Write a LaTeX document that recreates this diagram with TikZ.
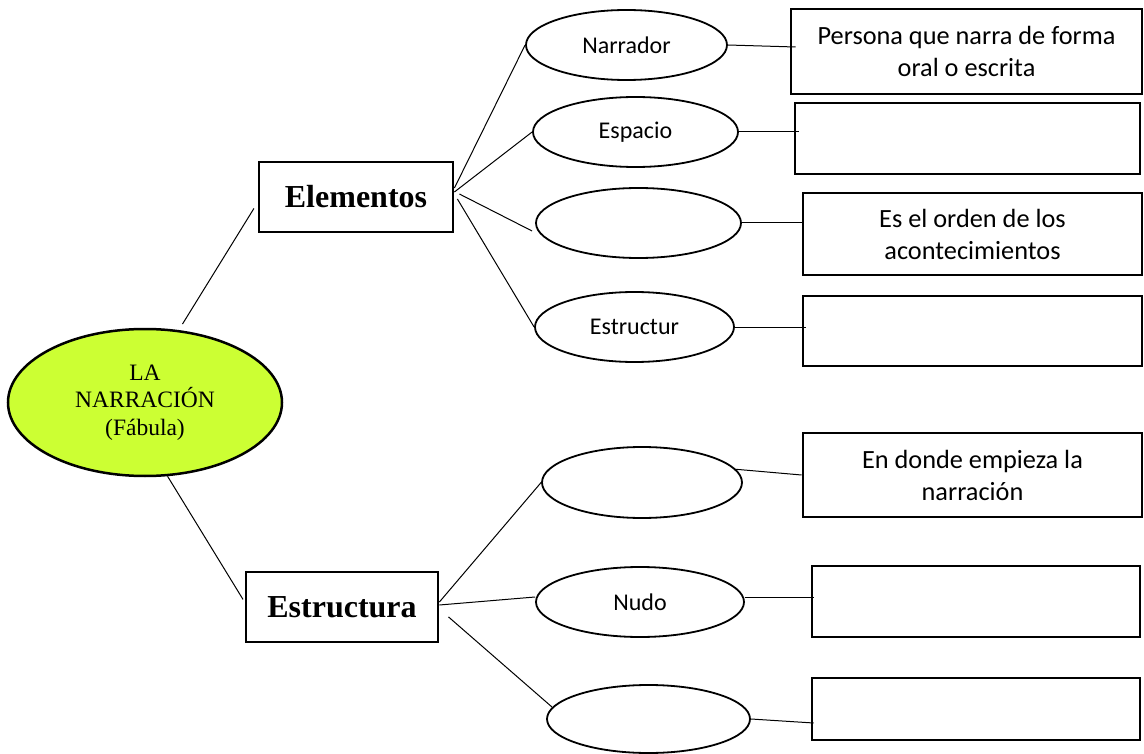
\documentclass[tikz,border=0pt]{standalone}
\usepackage{fontspec}
\setmainfont{Liberation Serif}
\newfontfamily\calfont{Carlito}
\usetikzlibrary{shapes.geometric,calc}
\definecolor{limefill}{RGB}{204,255,51}
\begin{document}
\begin{tikzpicture}[x=1pt,y=-1pt,
  oval/.style={ellipse,draw,line width=1.8pt,inner sep=0pt,font=\calfont\fontsize{24}{29}\selectfont},
  tbox/.style={rectangle,draw,line width=2.8pt,inner sep=0pt,align=center,font=\calfont\fontsize{26.3}{32}\selectfont},
  hbox/.style={rectangle,draw,line width=2.8pt,inner sep=0pt,font=\fontsize{32}{38}\selectfont\bfseries},
  link/.style={line width=1pt}]
\fill[white] (0,0) rectangle (1144,754);
\useasboundingbox (0,0) rectangle (1144,754);

% central
\node[ellipse,draw,fill=limefill,line width=2.5pt,minimum width=274pt,minimum height=147pt,inner sep=0pt,align=center,font=\fontsize{23.5}{27.7}\selectfont] (cen) at (145,402.5) {LA\\NARRACIÓN\\(Fábula)};

% headings
\node[hbox,minimum width=194pt,minimum height=70pt] (elem) at (356,197) {Elementos};
\node[hbox,minimum width=192pt,minimum height=70pt] (estr) at (342,607) {Estructura};

% ellipses
\node[oval,minimum width=201pt,minimum height=70pt] (narr) at (626.5,45) {Narrador};
\node[oval,minimum width=205pt,minimum height=70pt] (esp) at (635.5,132) {Espacio};
\node[oval,minimum width=205pt,minimum height=70pt] (e3) at (638.5,223) {};
\node[oval,minimum width=199pt,minimum height=70pt] (e4) at (634.5,327) {Estructur};
\node[oval,minimum width=200pt,minimum height=71pt] (e5) at (642,482.5) {};
\node[oval,minimum width=208pt,minimum height=70pt] (nudo) at (640,602) {Nudo};
\node[oval,minimum width=203pt,minimum height=68pt] (e7) at (648.5,719) {};

% boxes
\node[tbox,minimum width=351pt,minimum height=85pt] (pbox) at (966.5,51.5) {Persona que narra de forma\\oral o escrita};
\node[tbox,minimum width=345pt,minimum height=71pt] (b2) at (967.5,138.5) {};
\node[tbox,minimum width=339pt,minimum height=82pt] (b3) at (972.5,234) {Es el orden de los\\acontecimientos};
\node[tbox,minimum width=339pt,minimum height=70pt] (b4) at (972.5,331) {};
\node[tbox,minimum width=339pt,minimum height=84pt] (b5) at (972.5,475) {En donde empieza la\\narración};
\node[tbox,minimum width=328pt,minimum height=71pt] (b6) at (976,601.5) {};
\node[tbox,minimum width=328pt,minimum height=62pt] (b7) at (976,709) {};

% connectors: centre
\draw[link,shorten <=7pt,shorten >=7pt] (cen.65) -- ([yshift=-5.5pt]elem.west);
\draw[link,shorten >=3pt] (cen.287) -- ([yshift=5pt]estr.west);

% Elementos
\draw[link] ([yshift=9pt]elem.east) -- (narr.west);
\draw[link] ([yshift=5pt]elem.east) -- (esp.west);
\draw[link] ([xshift=5pt,yshift=3pt]elem.east) -- ([xshift=-3pt,yshift=-8pt]e3.west);
\draw[link] ([xshift=3pt,yshift=-2pt]elem.east) -- (e4.west);

% ellipse -> boxes
\draw[link] (narr.east) -- ([xshift=6pt,yshift=4.5pt]pbox.west);
\draw[link] (esp.east) -- ($(esp.east -| b2.west)+(5,0)$);
\draw[link] (e3.east) -- (e3.east -| b3.west);
\draw[link] (e4.east) -- ($(e4.east -| b4.west)+(4,0)$);
\draw[link] (e5.8) -- (b5.west);
\draw[link] ([yshift=5pt]nudo.east) -- ($(nudo.east -| b6.west)+(3,-5)$);
\draw[link] (e7.east) -- ($(b7.west)+(3,14)$);

% Estructura
\draw[link] ([yshift=5pt]estr.east) -- (e5.west);
\draw[link] ([yshift=2pt]estr.east) -- ([yshift=5pt]nudo.west);
\draw[link,shorten <=12pt] ([yshift=-2pt]estr.east) -- (e7.173);
\end{tikzpicture}
\end{document}
